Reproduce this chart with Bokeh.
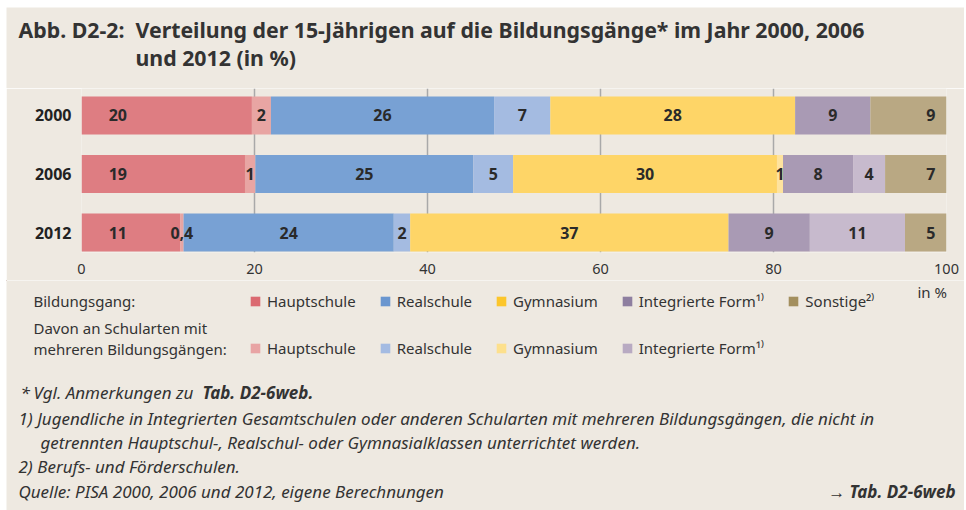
import numpy as np
from bokeh.plotting import figure
from bokeh.layouts import column
from bokeh.models import Range1d, FixedTicker, Label, Legend, LegendItem, ColumnDataSource
from bokeh.core.properties import value
from bokeh.embed import file_html
from bokeh.resources import INLINE

# ---------------- data ----------------
years = ["2000", "2006", "2012"]
hauptschule = [19.7, 18.9, 11.4]
hauptschule_mehr = [2.2, 1.2, 0.4]
realschule = [25.8, 25.2, 24.3]
realschule_mehr = [6.5, 4.6, 1.9]
gymnasium = [28.3, 30.5, 36.8]
gymnasium_mehr = [0.0, 0.7, 0.0]
integriert = [8.7, 8.1, 9.4]
integriert_mehr = [0.0, 3.7, 11.0]
sonstige = [8.8, 7.1, 4.8]

lab_hauptschule = ["20", "19", "11"]
lab_hauptschule_mehr = ["2", "1", "0,4"]
lab_realschule = ["26", "25", "24"]
lab_realschule_mehr = ["7", "5", "2"]
lab_gymnasium = ["28", "30", "37"]
lab_gymnasium_mehr = ["", "1", ""]
lab_integriert = ["9", "8", "9"]
lab_integriert_mehr = ["", "4", "11"]
lab_sonstige = ["9", "7", "5"]

x_ticks = [0, 20, 40, 60, 80, 100]

legend_main = ["Hauptschule", "Realschule", "Gymnasium", "Integrierte Form\u00b9\u207e", "Sonstige\u00b2\u207e"]
legend_mehr = ["Hauptschule", "Realschule", "Gymnasium", "Integrierte Form\u00b9\u207e"]

# ---------------- styles ----------------
FONT = "Noto Sans"
BG = "#EEE9E1"
TXT = "#333333"
bar_colors = ["#DE7D82", "#E8A5A3", "#78A1D4", "#A4BBE1", "#FED567", "#FEE39E",
              "#A99AB4", "#C7BACD", "#B9A883"]
legend_main_colors = ["#DB6A71", "#6A96CF", "#FCC62B", "#8E7FA0", "#A38F5E"]
legend_mehr_colors = ["#E8A4A4", "#A4BBE2", "#FDE08C", "#B8AAC2"]

series = [hauptschule, hauptschule_mehr, realschule, realschule_mehr, gymnasium,
          gymnasium_mehr, integriert, integriert_mehr, sonstige]
series_labels = [lab_hauptschule, lab_hauptschule_mehr, lab_realschule, lab_realschule_mehr,
                 lab_gymnasium, lab_gymnasium_mehr, lab_integriert, lab_integriert_mehr,
                 lab_sonstige]

# page geometry (page pixels)
X0, X1 = 6, 964          # beige area left/right
Y0 = 7                   # beige top
Y_CHART_TOP, Y_CHART_BOT = 88, 280
Y_END = 510
W = X1 - X0


def panel(y_top, y_bot):
    f = figure(width=W, height=y_bot - y_top, output_backend="svg", toolbar_location=None,
               x_range=Range1d(X0, X1), y_range=Range1d(y_bot, y_top),
               min_border=0, x_axis_type=None, y_axis_type=None, frame_align=False)
    f.background_fill_color = BG
    f.border_fill_color = BG
    f.outline_line_color = None
    f.xgrid.visible = False
    f.ygrid.visible = False
    return f


def lab(f, X, Y, text, size="15px", style="normal", align="left", color=TXT, dy=-6):
    f.add_layout(Label(x=X, y=Y + dy, text=text, text_font=FONT, text_font_size=size,
                       text_font_style=style, text_align=align,
                       text_baseline="alphabetic", text_color=color))


# ---------------- title ----------------
pt = panel(Y0, Y_CHART_TOP)
TS = "21.3px"
lab(pt, 18, 38, "Abb. D2-2:", size=TS, style="bold", dy=-9)
lab(pt, 135, 38, "Verteilung der 15-Jährigen auf die Bildungsgänge* im Jahr 2000, 2006",
    size=TS, style="bold", dy=-9)
lab(pt, 135, 66, "und 2012 (in %)", size=TS, style="bold", dy=-9)

# ---------------- chart ----------------
FL = 81 - X0
FR = X1 - 946
p = figure(width=W, height=Y_CHART_BOT - Y_CHART_TOP, output_backend="svg",
           toolbar_location=None, x_range=Range1d(0, 100), y_range=Range1d(-0.34, 2.46),
           min_border_left=FL, min_border_right=FR, min_border_top=0,
           min_border_bottom=(Y_CHART_BOT - 252), frame_align=False)
p.background_fill_color = BG
p.border_fill_color = BG
p.outline_line_color = None

ypos = [len(years) - 1 - i for i in range(len(years))]

data = np.array(series)
rights = np.cumsum(data, axis=0)
lefts = rights - data
for k in range(len(series)):
    src = ColumnDataSource(dict(y=ypos, left=lefts[k], right=rights[k]))
    p.hbar(y="y", left="left", right="right", height=0.65, source=src,
           fill_color=bar_colors[k], line_color=None)

tx, ty, tt = [], [], []
for k in range(len(series)):
    for i in range(len(years)):
        t = series_labels[k][i]
        if not t:
            continue
        if k == 0:
            xc = 4.2
        elif k == len(series) - 1:
            xc = 100 - 1.8
        else:
            xc = (lefts[k][i] + rights[k][i]) / 2
        tx.append(xc); ty.append(ypos[i]); tt.append(t)
p.text(x=tx, y=ty, text=tt, text_align="center", text_baseline="middle",
       text_font=value(FONT), text_font_style="bold", text_font_size="16px",
       text_color="#2A2A2A")

p.xaxis.ticker = FixedTicker(ticks=x_ticks)
p.xaxis.axis_line_color = None
p.xaxis.major_tick_line_color = None
p.xaxis.minor_tick_line_color = None
p.xaxis.major_tick_out = 0
p.xaxis.major_tick_in = 0
p.xaxis.major_label_text_font = FONT
p.xaxis.major_label_text_font_size = "14.5px"
p.xaxis.major_label_text_color = TXT
p.xaxis.major_label_standoff = 11

p.yaxis.ticker = FixedTicker(ticks=ypos)
p.yaxis.major_label_overrides = {ypos[i]: years[i] for i in range(len(years))}
p.yaxis.axis_line_color = None
p.yaxis.major_tick_line_color = None
p.yaxis.minor_tick_line_color = None
p.yaxis.major_tick_out = 0
p.yaxis.major_label_text_font = FONT
p.yaxis.major_label_text_font_size = "16px"
p.yaxis.major_label_text_font_style = "bold"
p.yaxis.major_label_text_color = "#222222"
p.yaxis.major_label_standoff = 10

p.xgrid.ticker = FixedTicker(ticks=x_ticks)
p.xgrid.grid_line_color = "#A9A9A9"
p.xgrid.grid_line_width = 1.5
p.ygrid.visible = False

# ---------------- legend + notes ----------------
pb = panel(Y_CHART_BOT, Y_END)
lab(pb, 33, 306, "Bildungsgang:")
lab(pb, 33, 333, "Davon an Schularten mit")
lab(pb, 33, 354, "mehreren Bildungsgängen:")
lab(pb, 917, 297, "in %")


def make_legend(names, colors, X, Ybottom):
    items = []
    for n, c in zip(names, colors):
        r = pb.hbar(y=[-1000], left=[0], right=[1], height=1, fill_color=c, line_color=None)
        items.append(LegendItem(label=n, renderers=[r]))
    leg = Legend(items=items, orientation="horizontal",
                 location=(X - X0, Y_END - Ybottom),
                 glyph_width=12, glyph_height=12, label_standoff=6, spacing=23,
                 padding=0, margin=0, border_line_color=None, background_fill_alpha=0,
                 label_text_font=FONT, label_text_font_size="15px", label_text_color=TXT,
                 label_height=12)
    pb.add_layout(leg)


make_legend(legend_main, legend_main_colors, 249, 311)
make_legend(legend_mehr, legend_mehr_colors, 249, 358)

FN = "17px"
lab(pb, 20, 398, "*", style="italic", size=FN)
lab(pb, 33, 398, "Vgl. Anmerkungen zu", style="italic", size=FN)
lab(pb, 202, 398, "Tab. D2-6web.", style="bold italic", size=FN)
lab(pb, 18, 424, "1) Jugendliche in Integrierten Gesamtschulen oder anderen Schularten mit mehreren "
                 "Bildungsgängen, die nicht in", style="italic", size=FN)
lab(pb, 40, 448, "getrennten Hauptschul-, Realschul- oder Gymnasialklassen unterrichtet werden.",
    style="italic", size=FN)
lab(pb, 18, 472, "2) Berufs- und Förderschulen.", style="italic", size=FN)
lab(pb, 18, 497, "Quelle: PISA 2000, 2006 und 2012, eigene Berechnungen", style="italic", size=FN)
lab(pb, 955, 497, "\u2192 Tab. D2-6web", style="bold italic", align="right", size=FN)

layout = column(pt, p, pb, spacing=0, margin=(Y0, 0, 0, X0))
open("out.html", "w").write(file_html(layout, INLINE))
